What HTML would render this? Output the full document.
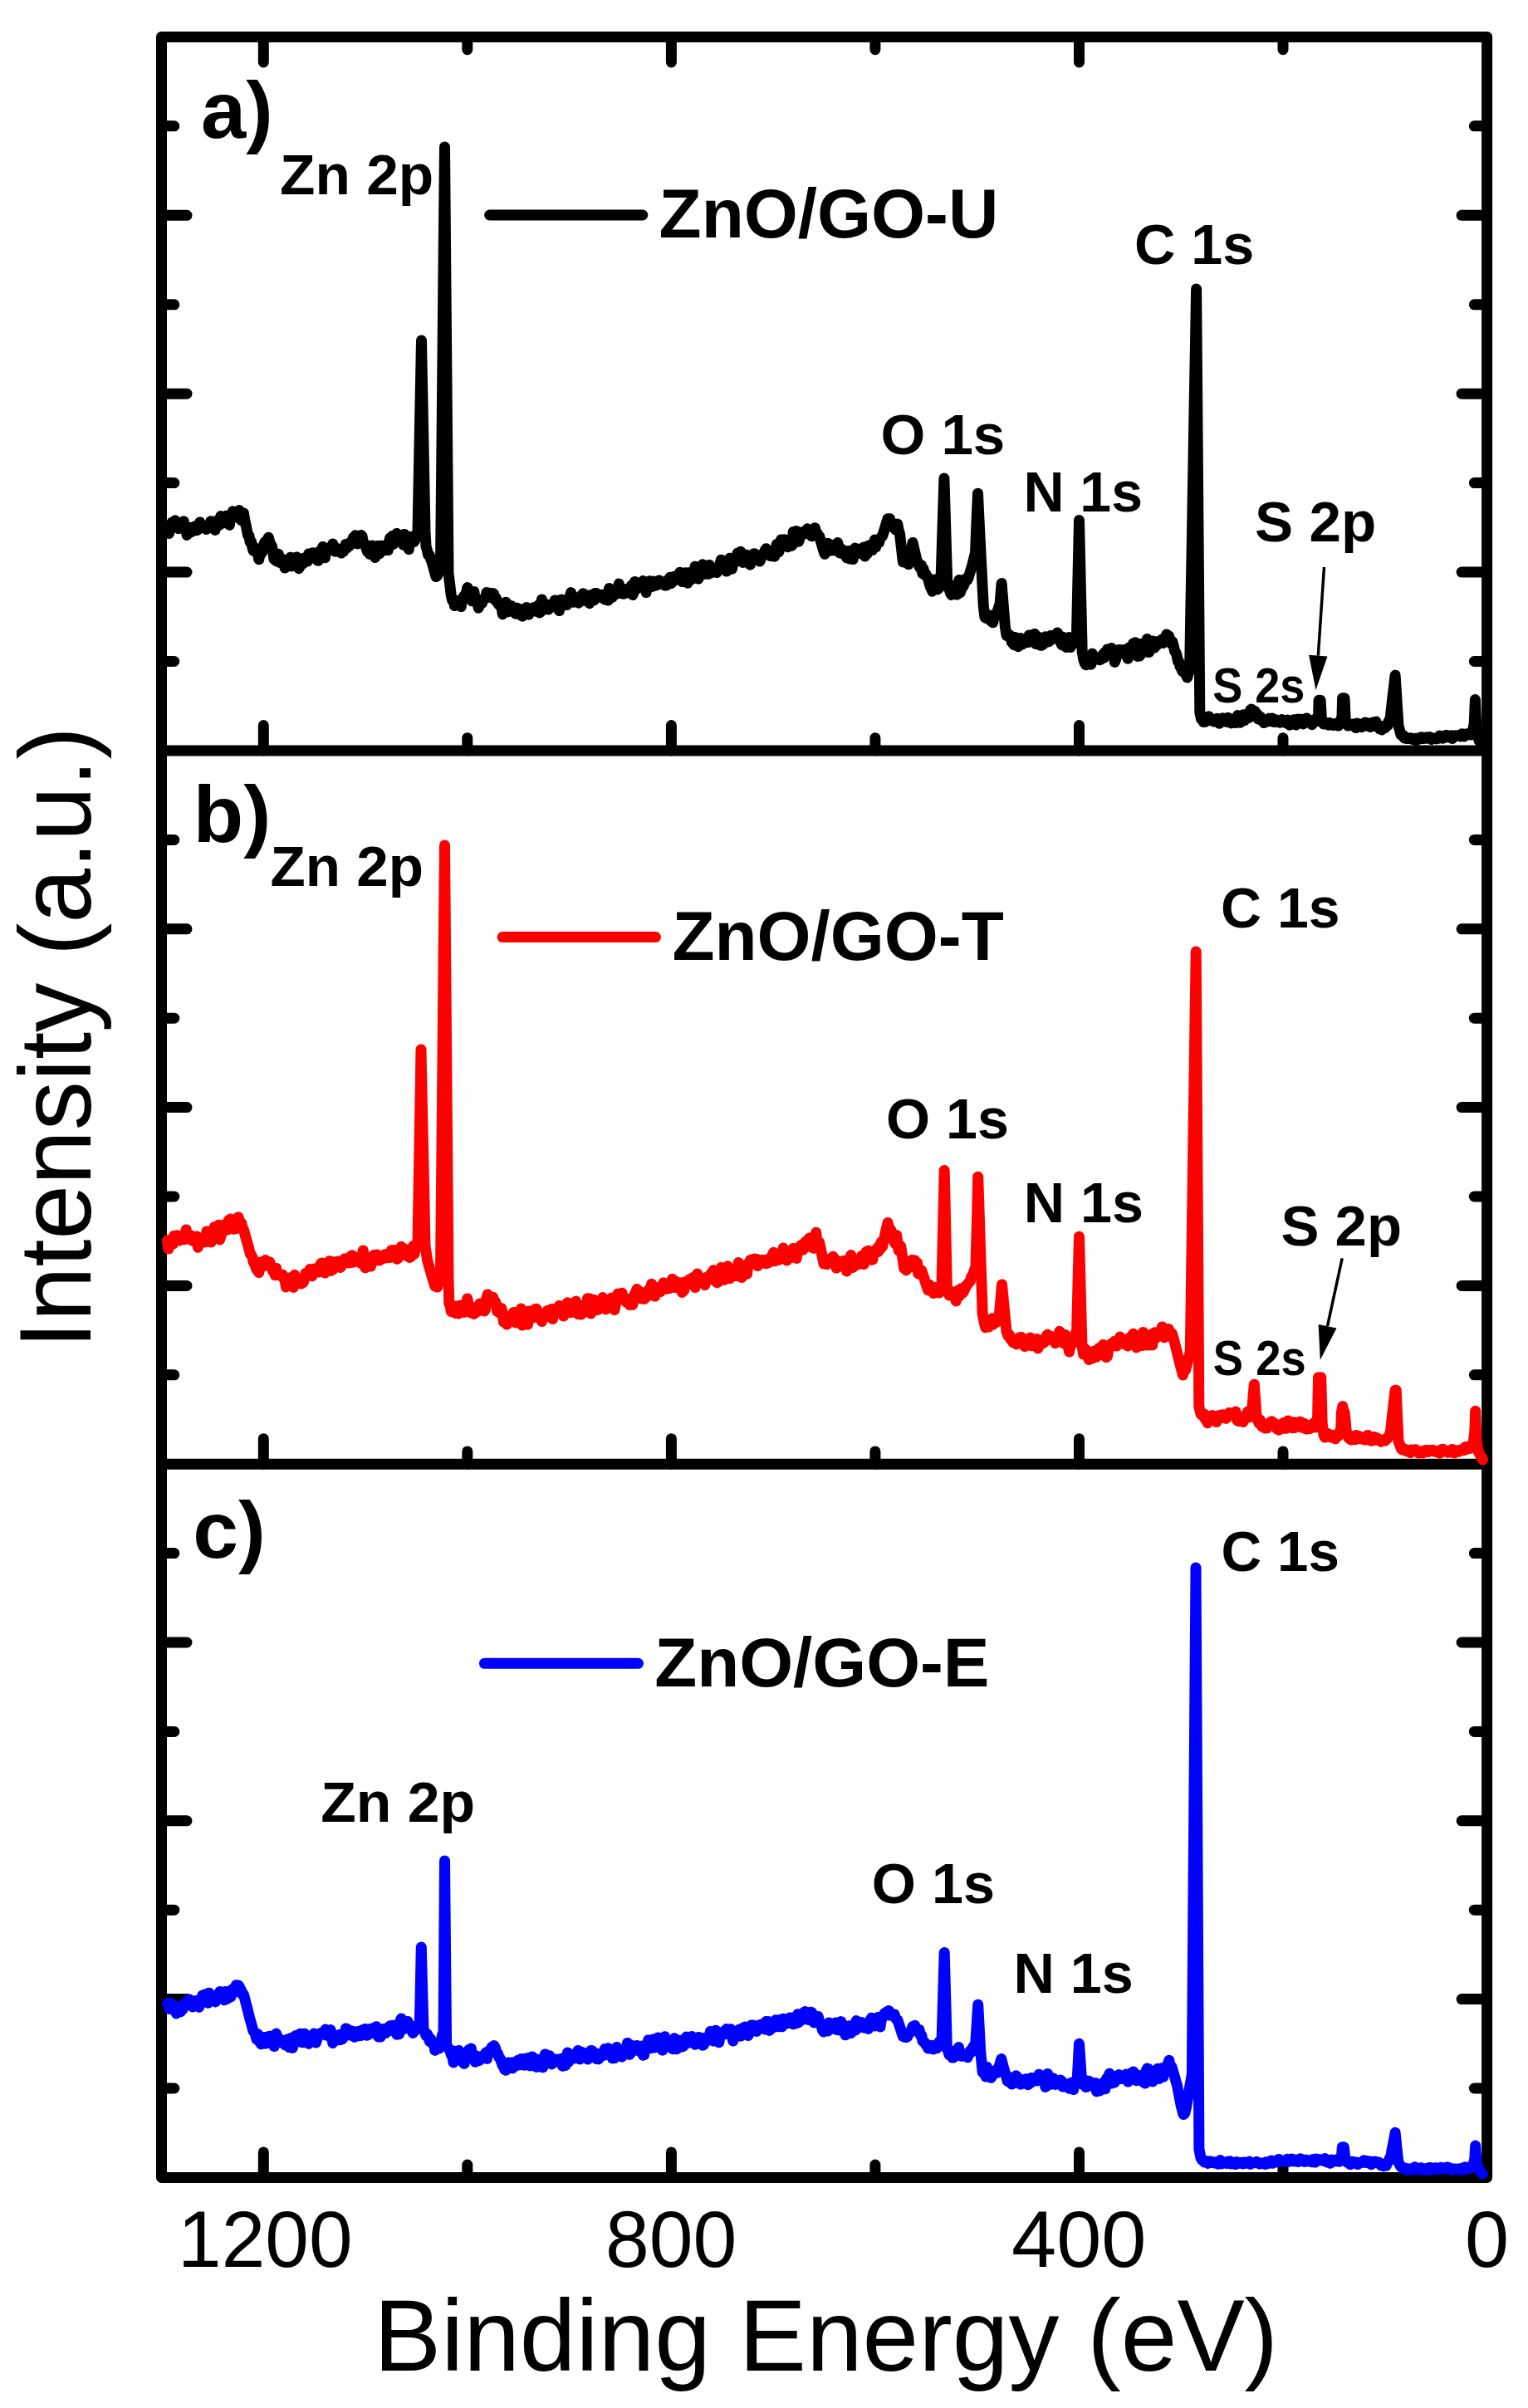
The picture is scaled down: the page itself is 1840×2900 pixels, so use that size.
<!DOCTYPE html>
<html lang="en"><head><meta charset="utf-8"><title>XPS survey spectra</title>
<style>html,body{margin:0;padding:0;background:#fff}svg{display:block}</style>
</head><body>
<svg width="1840" height="2900" viewBox="0 0 1840 2900" role="img" aria-label="XPS survey spectra of ZnO/GO samples">
<rect x="0" y="0" width="1840" height="2900" fill="#fff"/>
<g fill="none" stroke="#000" stroke-width="13" stroke-linecap="round" stroke-linejoin="round">
<rect x="194.5" y="44.4" width="1596.1" height="2578.0"/>
<path d="M194.5 904.0H1790.6M194.5 1763.2H1790.6"/>
<path d="M317.3 44.4v30.5M808.4 44.4v30.5M1299.5 44.4v30.5M562.8 44.4v15.3M1053.9 44.4v15.3M1545.0 44.4v15.3M317.3 904.0v-30.5M808.4 904.0v-30.5M1299.5 904.0v-30.5M562.8 904.0v-15.3M1053.9 904.0v-15.3M1545.0 904.0v-15.3M317.3 1763.2v-30.5M808.4 1763.2v-30.5M1299.5 1763.2v-30.5M562.8 1763.2v-15.3M1053.9 1763.2v-15.3M1545.0 1763.2v-15.3M317.3 2622.4v-30.5M808.4 2622.4v-30.5M1299.5 2622.4v-30.5M562.8 2622.4v-15.3M1053.9 2622.4v-15.3M1545.0 2622.4v-15.3M194.5 151.8h15.3M1790.6 151.8h-15.3M194.5 259.3h30.5M1790.6 259.3h-30.5M194.5 366.8h15.3M1790.6 366.8h-15.3M194.5 474.2h30.5M1790.6 474.2h-30.5M194.5 581.6h15.3M1790.6 581.6h-15.3M194.5 689.1h30.5M1790.6 689.1h-30.5M194.5 796.5h15.3M1790.6 796.5h-15.3M194.5 1011.4h15.3M1790.6 1011.4h-15.3M194.5 1118.8h30.5M1790.6 1118.8h-30.5M194.5 1226.2h15.3M1790.6 1226.2h-15.3M194.5 1333.6h30.5M1790.6 1333.6h-30.5M194.5 1441.0h15.3M1790.6 1441.0h-15.3M194.5 1548.4h30.5M1790.6 1548.4h-30.5M194.5 1655.8h15.3M1790.6 1655.8h-15.3M194.5 1870.6h15.3M1790.6 1870.6h-15.3M194.5 1978.0h30.5M1790.6 1978.0h-30.5M194.5 2085.4h15.3M1790.6 2085.4h-15.3M194.5 2192.8h30.5M1790.6 2192.8h-30.5M194.5 2300.2h15.3M1790.6 2300.2h-15.3M194.5 2407.6h30.5M1790.6 2407.6h-30.5M194.5 2515.0h15.3M1790.6 2515.0h-15.3"/>
</g>
<g fill="none" stroke-width="13" stroke-linecap="round" stroke-linejoin="round">
<path stroke="#000" d="M201.0 635.0L202.2 640.6L203.5 642.6L204.8 637.0L206.0 631.9L207.2 629.1L208.5 633.3L209.8 629.6L211.0 626.8L212.2 633.2L213.5 634.5L214.8 636.6L216.0 634.0L217.3 630.7L218.6 633.5L219.9 634.0L221.2 627.8L222.5 635.4L223.8 636.5L225.1 644.4L226.4 638.8L227.7 635.6L229.0 635.5L230.3 640.8L231.6 637.3L232.9 639.3L234.2 634.0L235.5 635.1L236.8 638.7L238.1 638.0L239.4 635.1L240.7 628.9L242.0 633.0L243.3 633.7L244.6 633.3L245.9 635.9L247.2 634.2L248.5 637.5L249.8 633.2L251.1 633.2L252.4 635.1L253.7 627.8L255.0 631.6L256.4 628.4L257.7 627.9L259.1 638.4L260.4 631.6L261.8 632.9L263.1 632.8L264.4 628.5L265.8 621.6L267.1 630.6L268.5 627.7L269.8 626.0L271.1 629.6L272.4 621.2L273.8 622.6L275.1 630.0L276.4 632.3L277.7 620.4L279.0 623.8L280.3 615.8L281.6 619.6L282.9 623.1L284.3 620.7L285.6 619.8L286.9 617.0L288.2 614.6L289.5 621.6L290.8 626.8L292.1 622.4L293.4 618.0L294.7 626.0L296.0 632.2L297.3 638.5L298.6 644.7L299.9 645.1L301.2 652.9L302.4 652.1L303.7 658.2L305.0 663.0L306.3 659.2L307.7 662.9L309.0 664.0L310.3 666.0L311.7 673.7L313.0 668.0L314.2 667.3L315.5 665.1L316.8 658.8L318.0 655.0L319.3 652.4L320.7 652.3L322.0 650.0L323.4 647.3L324.7 652.3L326.0 655.8L327.4 657.8L328.7 665.6L330.0 673.5L331.3 668.8L332.6 675.7L334.0 673.5L335.3 667.3L336.6 677.4L337.9 673.9L339.2 672.8L340.5 674.8L341.8 677.1L343.1 684.1L344.4 681.1L345.7 680.0L347.0 680.0L348.3 681.2L349.6 671.3L350.9 681.9L352.1 673.9L353.4 678.1L354.7 671.8L356.0 676.0L357.3 670.9L358.6 673.7L359.9 684.7L361.1 682.5L362.4 676.5L363.7 676.7L365.0 678.7L366.3 671.9L367.7 674.6L369.0 671.9L370.3 676.0L371.7 666.9L373.0 671.0L374.3 667.9L375.6 666.0L376.9 665.8L378.2 671.9L379.5 670.6L380.8 672.0L382.1 674.9L383.4 675.2L384.7 663.9L386.0 668.0L387.3 668.2L388.7 658.5L390.0 662.8L391.4 671.8L392.7 664.0L394.0 660.5L395.4 661.3L396.7 660.0L398.1 659.0L399.4 657.8L400.8 655.0L402.3 662.8L403.7 664.3L405.1 660.2L406.6 661.9L408.0 661.0L409.4 664.1L410.8 666.1L412.2 663.6L413.5 664.3L414.9 660.1L416.3 655.4L417.7 660.0L419.0 655.7L420.4 657.7L421.7 656.6L423.0 652.0L424.2 651.1L425.5 647.3L426.8 647.0L428.0 644.7L429.3 653.4L430.7 655.1L432.0 647.5L433.4 649.4L434.7 644.6L436.0 645.8L437.4 652.9L438.7 655.0L440.0 655.9L441.3 661.2L442.6 664.6L443.9 664.3L445.1 667.2L446.4 660.4L447.7 656.9L449.0 663.0L450.3 663.5L451.6 671.5L452.9 666.4L454.2 657.5L455.5 661.1L456.8 666.9L458.1 657.2L459.4 662.6L460.7 657.4L462.0 659.0L463.3 662.7L464.6 660.9L465.9 657.2L467.2 662.6L468.5 652.4L469.8 647.5L471.1 656.4L472.4 645.6L473.7 655.3L475.0 644.7L476.3 647.7L477.7 642.4L479.0 646.3L480.3 648.6L481.7 650.1L483.0 650.0L484.3 650.2L485.7 656.3L487.0 643.4L488.3 648.6L489.7 651.8L491.0 655.0L492.3 661.7L493.6 646.6L494.9 649.6L496.1 646.3L497.4 647.0L498.7 652.4L500.0 650.0L501.5 645.0L503.0 640.0L504.5 563.3L506.0 486.7L507.5 410.0L509.0 486.7L510.5 563.3L512.0 640.0L513.0 657.8L514.4 662.8L515.7 668.6L517.1 668.3L518.4 672.8L519.8 676.0L521.1 680.6L522.4 685.2L523.7 689.9L525.0 694.5L526.4 693.6L527.8 689.9L529.1 683.6L530.5 680.0L531.8 554.2L533.0 428.5L534.2 302.8L535.5 177.0L537.0 348.0L538.5 519.0L540.0 690.0L541.7 704.0L543.4 718.0L544.7 723.1L546.0 721.8L547.3 729.5L548.6 728.5L549.9 728.8L551.2 725.8L552.5 725.7L553.9 727.3L555.2 730.6L556.5 720.6L557.8 721.2L559.0 717.5L560.2 720.1L561.5 713.6L562.8 707.6L564.0 715.0L565.4 718.0L566.7 716.5L568.0 723.7L569.4 717.1L570.8 712.5L572.1 721.0L573.4 724.7L574.8 725.9L576.2 732.2L577.7 728.4L579.1 725.9L580.6 726.0L582.0 722.0L583.3 720.3L584.6 720.5L585.9 713.6L587.2 719.5L588.4 714.5L589.7 714.2L591.0 718.6L592.3 720.0L593.6 714.5L594.9 715.6L596.2 722.9L597.5 720.6L598.8 724.8L600.1 727.7L601.4 728.4L602.7 730.0L604.0 731.5L605.3 739.8L606.6 737.9L607.9 735.6L609.2 725.2L610.6 727.5L611.9 736.7L613.2 734.8L614.5 729.5L615.8 729.7L617.1 731.4L618.4 736.3L619.7 736.4L621.0 739.3L622.4 732.2L623.7 738.5L625.0 733.7L626.3 733.5L627.6 735.4L628.9 742.2L630.2 736.7L631.5 734.1L632.8 732.8L634.1 731.4L635.4 739.3L636.7 740.2L638.0 737.2L639.4 733.8L640.7 736.4L642.0 731.8L643.3 732.7L644.6 732.4L645.9 730.6L647.2 736.7L648.5 728.8L649.8 738.0L651.1 736.8L652.4 722.0L653.7 734.8L655.0 732.9L656.4 727.2L657.7 727.6L659.0 732.7L660.3 734.0L661.6 732.9L662.9 729.3L664.2 727.9L665.5 730.9L666.8 727.5L668.2 723.0L669.5 723.0L670.8 725.0L672.1 727.5L673.4 735.6L674.7 726.2L676.0 721.9L677.3 725.9L678.6 723.8L679.9 724.4L681.1 728.6L682.4 728.6L683.7 721.8L685.0 720.0L686.3 717.9L687.6 713.6L689.0 718.3L690.3 725.3L691.6 720.5L693.0 723.6L694.3 724.5L695.6 723.4L696.9 726.2L698.2 721.7L699.6 717.5L700.9 721.0L702.2 714.8L703.5 723.2L704.8 719.4L706.1 718.6L707.4 723.3L708.7 717.1L710.0 726.7L711.3 724.1L712.6 718.1L714.0 715.9L715.3 722.8L716.6 714.4L717.9 714.5L719.2 717.3L720.5 718.7L721.8 718.0L723.1 719.4L724.4 716.2L725.7 716.4L727.0 717.0L728.3 722.0L729.6 720.5L730.9 715.1L732.2 723.0L733.5 708.4L734.8 713.7L736.1 717.3L737.4 719.3L738.7 715.8L740.0 712.5L741.3 715.7L742.6 712.8L743.9 714.8L745.2 703.1L746.5 710.8L747.8 708.0L749.1 714.7L750.4 715.2L751.7 715.1L753.0 710.5L754.3 709.5L755.5 711.7L756.8 708.7L758.0 710.2L759.3 708.8L760.5 705.1L761.8 716.5L763.1 713.6L764.3 700.5L765.6 710.0L766.8 702.1L768.1 705.1L769.3 704.1L770.6 703.9L771.9 707.1L773.1 705.2L774.4 699.6L775.6 704.3L776.9 707.0L778.1 713.6L779.4 705.3L780.7 705.3L782.0 699.7L783.3 701.7L784.6 706.7L786.0 701.0L787.3 700.1L788.6 705.4L789.9 704.1L791.2 704.6L792.5 700.8L793.8 698.9L795.1 700.5L796.4 701.5L797.7 700.8L799.0 703.8L800.4 705.0L801.7 705.1L803.0 704.7L804.3 698.4L805.6 701.4L806.9 695.2L808.2 702.6L809.5 700.6L810.8 700.2L812.1 694.2L813.5 696.5L814.8 694.8L816.1 693.1L817.4 693.3L818.7 689.2L820.0 694.8L821.3 700.6L822.6 693.5L823.9 694.9L825.2 689.7L826.6 695.8L827.9 702.2L829.2 689.8L830.5 690.8L831.8 692.2L833.1 697.7L834.4 694.6L835.7 692.5L837.0 682.2L838.3 687.7L839.7 693.6L841.0 697.1L842.3 694.2L843.6 687.9L844.9 685.6L846.2 679.8L847.5 681.3L848.8 691.2L850.1 687.9L851.5 681.5L852.8 691.4L854.1 680.4L855.4 690.3L856.7 685.6L858.0 685.7L859.3 686.6L860.6 688.0L861.9 686.1L863.2 689.7L864.5 684.6L865.8 681.4L867.1 678.8L868.4 674.3L869.7 676.0L871.0 683.5L872.3 684.2L873.6 686.5L874.9 688.1L876.2 684.8L877.5 681.5L878.8 672.3L880.1 674.3L881.4 685.2L882.7 680.1L884.0 675.0L885.3 675.3L886.6 676.0L887.9 666.3L889.2 668.3L890.5 666.6L891.8 664.2L893.1 673.8L894.4 677.4L895.7 673.1L897.0 674.1L898.3 668.2L899.6 673.0L900.9 675.4L902.2 679.2L903.5 680.1L904.8 675.4L906.1 671.3L907.4 667.0L908.7 666.7L910.0 670.0L911.3 671.5L912.5 672.2L913.8 669.7L915.0 676.0L916.3 672.8L917.6 669.0L918.8 666.8L920.1 667.2L921.4 662.4L922.6 660.8L923.9 666.0L925.1 662.9L926.4 663.2L927.7 669.6L928.9 664.7L930.2 669.8L931.5 665.0L932.7 670.2L934.0 666.6L935.2 655.6L936.5 662.0L937.9 664.7L939.2 659.8L940.5 650.0L941.9 655.9L943.2 656.8L944.6 649.8L946.0 650.2L947.3 654.6L948.6 658.7L950.0 651.0L951.3 657.4L952.6 657.5L953.9 656.8L955.2 640.5L956.5 644.0L957.8 648.6L959.1 639.6L960.4 649.0L961.7 652.3L963.0 648.0L964.3 644.6L965.6 643.8L967.0 640.4L968.3 642.9L969.6 642.8L971.0 642.1L972.3 636.8L973.6 640.4L974.9 641.5L976.2 640.1L977.5 645.8L978.8 644.9L980.1 637.1L981.4 635.7L982.7 642.5L984.0 642.1L985.3 646.6L986.6 645.7L988.0 650.3L989.3 654.9L990.6 659.4L992.0 664.0L993.2 667.3L994.5 663.7L995.8 654.8L997.0 654.3L998.2 661.4L999.5 655.6L1000.8 663.1L1002.0 658.7L1003.3 660.1L1004.7 662.8L1006.0 657.9L1007.3 660.8L1008.7 653.6L1010.0 659.5L1011.4 666.1L1012.7 661.9L1014.0 661.7L1015.4 665.7L1016.7 667.9L1018.0 665.2L1019.4 671.7L1020.7 670.5L1022.0 663.4L1023.2 673.1L1024.5 664.1L1025.8 664.2L1027.1 673.5L1028.3 665.3L1029.6 660.1L1030.9 666.2L1032.2 663.1L1033.5 661.2L1034.7 662.3L1036.0 666.6L1037.3 661.6L1038.7 660.1L1040.0 659.0L1041.3 670.0L1042.7 662.2L1044.0 667.1L1045.3 657.4L1046.7 663.2L1048.0 656.3L1049.4 657.6L1050.7 662.4L1052.0 658.0L1053.4 650.1L1054.7 658.7L1056.0 653.0L1057.3 653.1L1058.7 653.2L1060.0 648.1L1061.3 646.7L1062.6 645.7L1063.9 641.5L1065.2 637.3L1066.4 633.1L1067.7 628.9L1069.0 624.7L1070.3 626.4L1071.6 624.8L1072.9 629.2L1074.1 630.1L1075.4 634.5L1076.7 635.8L1078.0 637.8L1079.4 638.3L1080.8 631.1L1082.1 638.5L1083.5 643.0L1084.8 654.3L1086.1 665.7L1087.4 677.0L1088.7 675.1L1090.0 673.3L1091.4 675.2L1092.7 672.7L1094.0 679.7L1095.2 673.2L1096.5 666.6L1097.8 660.0L1099.0 653.5L1100.4 659.4L1101.8 665.2L1103.1 671.1L1104.5 677.0L1105.8 677.5L1107.0 682.4L1108.2 684.3L1109.5 680.9L1110.8 690.7L1112.0 685.0L1113.3 692.1L1114.7 690.8L1116.0 694.8L1117.3 695.2L1118.7 701.2L1120.0 705.9L1121.3 708.7L1122.7 712.2L1124.0 705.6L1125.3 697.9L1126.7 703.2L1128.0 705.9L1129.2 709.7L1130.5 704.9L1131.8 707.6L1133.0 700.0L1134.3 658.7L1135.6 617.4L1136.9 576.1L1138.2 617.4L1139.4 658.7L1140.7 700.0L1143.0 709.0L1144.3 713.8L1145.7 716.4L1147.0 712.5L1148.4 705.6L1149.7 707.0L1151.0 708.4L1152.3 716.1L1153.6 707.2L1155.0 698.5L1156.3 713.6L1157.6 709.9L1158.9 704.3L1160.2 706.0L1161.7 701.6L1163.2 696.9L1164.7 698.7L1166.2 695.5L1167.7 690.5L1169.3 685.4L1170.8 680.4L1172.7 672.9L1174.5 665.4L1176.0 627.7L1177.5 594.2L1178.8 622.2L1180.2 650.3L1182.5 695.5L1184.3 730.0L1186.0 743.6L1187.4 744.4L1188.8 741.0L1190.1 741.1L1191.5 741.1L1192.9 747.7L1194.2 743.8L1195.6 749.7L1197.0 743.6L1198.8 740.5L1200.5 738.0L1202.3 732.5L1204.1 727.0L1206.1 702.6L1207.5 719.8L1208.9 737.0L1210.3 754.2L1212.1 765.5L1213.3 763.5L1214.6 764.2L1215.8 764.7L1217.1 767.3L1218.3 773.5L1219.6 770.0L1220.9 776.7L1222.2 767.4L1223.5 775.6L1224.8 772.7L1226.2 778.7L1227.5 772.7L1228.8 768.4L1230.1 774.7L1231.4 775.7L1232.7 772.6L1234.0 771.3L1235.3 772.2L1236.6 772.8L1237.9 773.7L1239.2 764.9L1240.5 764.9L1241.8 770.4L1243.2 772.6L1244.5 769.6L1245.8 763.4L1247.1 775.4L1248.4 771.1L1249.7 766.7L1251.0 771.3L1252.3 777.0L1253.6 777.4L1254.9 776.9L1256.3 775.8L1257.6 774.2L1258.9 766.8L1260.2 769.3L1261.5 771.2L1262.8 772.8L1264.1 772.3L1265.5 765.5L1266.8 765.5L1268.1 766.5L1269.4 768.7L1270.7 768.0L1272.0 766.0L1273.3 761.9L1274.6 764.2L1276.0 772.0L1277.3 773.2L1278.6 776.7L1279.9 767.2L1281.2 772.0L1282.5 776.5L1283.8 779.5L1285.0 768.6L1286.2 769.7L1287.5 767.5L1288.8 779.6L1290.0 776.5L1291.3 776.5L1292.5 772.4L1293.8 773.9L1295.0 772.5L1296.3 772.0L1297.9 699.2L1299.5 626.5L1301.3 705.8L1303.2 785.0L1305.0 795.0L1306.3 798.7L1307.6 800.8L1308.8 800.1L1310.1 797.3L1311.4 798.3L1312.7 798.7L1313.9 800.2L1315.2 787.2L1316.5 793.6L1317.8 793.3L1319.1 793.6L1320.4 793.9L1321.7 792.1L1323.0 792.2L1324.4 794.7L1325.7 793.9L1327.0 793.2L1328.3 787.7L1329.6 792.0L1330.9 785.0L1332.1 786.4L1333.4 782.0L1334.7 786.2L1336.0 785.6L1337.2 781.0L1338.5 780.5L1339.8 784.7L1341.1 785.4L1342.3 797.5L1343.6 794.5L1344.9 786.3L1346.2 785.2L1347.5 782.5L1348.7 782.6L1350.0 787.0L1351.3 783.8L1352.7 785.1L1354.0 782.5L1355.4 787.9L1356.8 788.1L1358.1 793.3L1359.5 780.1L1360.8 783.0L1362.1 784.9L1363.4 781.4L1364.6 774.9L1365.9 778.8L1367.2 773.7L1368.5 779.3L1369.8 790.5L1371.0 789.6L1372.3 790.0L1373.6 788.3L1374.9 775.3L1376.2 780.6L1377.4 780.5L1378.7 781.6L1380.0 775.1L1381.3 769.6L1382.5 785.5L1383.8 785.4L1385.1 781.3L1386.4 776.5L1387.7 778.1L1388.9 772.1L1390.2 780.0L1391.5 776.9L1392.8 777.4L1394.2 774.8L1395.5 772.2L1396.8 772.5L1398.2 772.7L1399.5 769.8L1400.8 774.4L1402.2 771.5L1403.5 768.8L1404.8 764.0L1406.2 771.3L1407.5 766.0L1408.9 773.3L1410.3 775.2L1411.8 772.6L1413.2 777.7L1414.6 784.4L1416.0 786.0L1417.3 790.2L1418.5 796.4L1419.8 796.9L1421.0 802.6L1422.3 804.6L1423.8 808.5L1425.3 804.5L1426.7 809.3L1428.2 812.7L1429.7 816.0L1431.2 810.4L1432.6 808.0L1433.9 731.3L1435.3 654.7L1436.6 578.0L1437.9 501.3L1439.3 424.7L1440.6 348.0L1442.0 518.0L1443.4 688.0L1444.8 858.0L1446.5 866.0L1447.8 863.9L1449.1 869.6L1450.4 867.4L1451.7 869.2L1453.0 867.6L1454.3 865.0L1455.6 862.8L1456.8 865.0L1458.1 867.7L1459.4 865.7L1460.7 868.0L1462.0 869.1L1463.3 866.6L1464.5 866.7L1465.8 865.2L1467.1 868.9L1468.4 871.3L1469.7 869.0L1471.0 866.1L1472.2 864.9L1473.5 865.5L1474.8 868.2L1476.1 865.1L1477.4 869.4L1478.7 864.2L1480.0 865.7L1481.2 869.0L1482.5 870.9L1483.8 866.0L1485.1 866.2L1486.5 867.7L1487.8 870.6L1489.2 870.0L1490.5 861.6L1491.9 865.1L1493.2 870.3L1494.6 864.0L1496.0 867.0L1497.3 860.7L1498.7 867.7L1500.0 865.0L1501.4 862.5L1502.8 864.4L1504.2 864.4L1505.6 855.2L1507.0 854.1L1508.4 858.4L1509.8 858.9L1511.1 856.4L1512.5 860.4L1513.9 859.9L1515.2 866.1L1516.6 864.0L1518.0 863.3L1519.3 867.5L1520.7 867.6L1522.0 870.6L1523.3 868.1L1524.5 868.5L1525.8 869.2L1527.1 867.2L1528.4 865.2L1529.7 868.6L1530.9 867.5L1532.2 865.1L1533.5 869.4L1534.8 869.6L1536.0 869.1L1537.3 867.1L1538.6 867.8L1539.9 869.8L1541.2 870.1L1542.4 867.4L1543.7 866.6L1545.0 869.0L1546.3 869.2L1547.6 869.4L1548.9 870.9L1550.2 867.0L1551.5 870.5L1552.8 873.2L1554.0 872.1L1555.3 870.1L1556.6 871.2L1557.9 866.8L1559.2 867.5L1560.5 873.1L1561.8 866.5L1563.1 865.9L1564.4 870.0L1565.7 867.8L1567.0 867.5L1568.2 866.2L1569.5 871.9L1570.8 868.4L1572.1 868.3L1573.4 864.9L1574.7 869.6L1576.0 869.0L1577.3 869.1L1578.6 870.1L1579.9 872.7L1581.1 870.3L1582.4 866.7L1583.7 866.3L1585.0 869.0L1586.3 864.9L1587.6 862.0L1588.1 843.3L1590.1 843.3L1591.4 866.0L1592.7 870.3L1594.0 872.0L1595.4 869.9L1596.8 871.0L1598.2 871.5L1599.6 873.2L1601.0 870.5L1602.4 872.3L1603.8 872.0L1605.1 873.5L1606.4 872.0L1607.7 871.5L1609.1 872.7L1610.4 872.8L1611.7 874.1L1613.0 871.0L1614.5 867.0L1616.0 864.0L1616.6 840.7L1619.0 840.7L1620.3 868.0L1621.7 872.2L1623.0 874.0L1624.4 874.0L1625.8 872.1L1627.2 872.9L1628.6 872.0L1630.0 873.8L1631.4 875.0L1632.8 876.6L1634.1 871.0L1635.5 871.5L1636.8 875.3L1638.2 874.1L1639.6 875.8L1640.9 872.1L1642.3 873.6L1643.6 870.1L1645.0 874.0L1646.3 870.5L1647.6 873.5L1648.8 874.8L1650.1 875.5L1651.4 871.8L1652.7 870.3L1654.2 869.7L1655.6 871.0L1657.1 869.1L1658.5 875.6L1660.0 875.0L1661.4 877.9L1662.7 874.6L1664.1 879.0L1665.4 874.6L1666.8 876.6L1668.2 876.3L1669.6 873.5L1671.0 874.0L1672.5 867.8L1674.0 866.0L1675.5 852.8L1677.0 839.6L1678.6 826.5L1680.1 813.3L1681.4 833.5L1682.7 853.8L1684.0 874.0L1685.5 879.5L1687.0 885.0L1688.3 885.9L1689.6 885.3L1690.9 888.8L1692.2 887.8L1693.5 889.5L1694.8 889.4L1696.1 888.9L1697.4 889.5L1698.8 888.8L1700.1 890.3L1701.4 890.4L1702.7 889.8L1704.0 889.4L1705.3 891.8L1706.6 889.3L1707.9 888.9L1709.2 890.2L1710.6 889.7L1711.9 887.7L1713.2 888.9L1714.5 889.5L1715.8 888.8L1717.0 888.1L1718.3 889.2L1719.6 887.9L1720.9 888.6L1722.1 887.6L1723.4 890.5L1724.7 889.0L1725.9 889.5L1727.2 889.3L1728.5 889.8L1729.8 888.8L1731.0 889.6L1732.3 889.0L1733.6 886.0L1734.8 888.2L1736.1 886.8L1737.4 889.1L1738.6 888.8L1739.9 887.9L1741.2 885.6L1742.5 885.6L1743.7 885.8L1745.0 888.0L1746.3 886.8L1747.6 885.7L1748.8 889.5L1750.1 888.4L1751.4 887.3L1752.7 885.7L1754.0 886.0L1755.3 886.1L1756.5 885.7L1757.8 886.0L1759.1 887.1L1760.4 883.8L1761.7 885.5L1763.0 887.0L1764.2 883.9L1765.5 884.5L1766.8 885.0L1768.3 884.1L1769.9 882.7L1771.5 885.1L1773.0 884.0L1775.3 870.0L1776.4 842.5L1778.0 880.0L1779.5 886.0L1781.0 892.0L1782.2 892.9L1783.5 895.0L1784.8 895.6L1786.0 896.0"/>
<path stroke="#f00" d="M201.5 1494.0L202.8 1504.1L204.1 1493.6L205.5 1495.8L206.8 1495.1L208.1 1498.3L209.4 1488.4L210.7 1490.6L212.0 1489.6L213.4 1487.8L214.7 1488.4L216.0 1494.0L217.4 1489.7L218.8 1490.7L220.1 1487.6L221.5 1492.8L222.9 1489.1L224.2 1480.9L225.6 1492.2L227.0 1490.0L228.3 1489.4L229.5 1487.7L230.8 1492.7L232.1 1494.4L233.3 1494.5L234.6 1490.9L235.9 1495.5L237.2 1489.0L238.4 1502.2L239.7 1498.0L241.0 1492.5L242.3 1494.4L243.6 1495.4L244.9 1496.0L246.3 1493.4L247.6 1495.7L248.9 1482.9L250.2 1486.9L251.5 1488.8L252.8 1487.4L254.1 1495.9L255.4 1485.5L256.8 1486.6L258.1 1477.8L259.4 1485.1L260.7 1486.4L262.0 1477.0L263.3 1475.3L264.6 1492.9L265.9 1489.0L267.2 1484.2L268.6 1483.5L269.9 1475.1L271.2 1474.5L272.5 1481.1L273.8 1481.0L275.1 1469.8L276.4 1476.7L277.7 1468.1L279.1 1474.0L280.4 1468.7L281.7 1480.3L283.0 1473.0L284.3 1479.8L285.6 1473.3L286.9 1465.9L288.2 1470.0L289.5 1475.4L290.8 1472.9L292.1 1479.2L293.4 1481.0L294.7 1485.7L296.0 1490.5L297.4 1495.2L298.7 1500.0L300.0 1504.7L301.3 1510.1L302.6 1511.7L303.9 1513.8L305.2 1519.9L306.5 1521.5L307.8 1525.7L309.1 1529.0L310.4 1524.4L311.7 1532.6L313.0 1525.4L314.3 1519.9L315.6 1525.7L316.9 1522.5L318.2 1520.1L319.6 1517.5L320.9 1519.0L322.2 1519.6L323.5 1524.2L324.8 1520.0L326.1 1525.3L327.4 1527.9L328.7 1531.0L330.0 1530.3L331.3 1535.7L332.6 1527.5L333.9 1535.6L335.2 1534.1L336.6 1536.0L337.9 1535.5L339.2 1535.6L340.5 1535.3L341.8 1540.0L343.1 1540.6L344.4 1550.0L345.6 1547.4L346.9 1545.8L348.2 1544.1L349.4 1538.8L350.7 1542.8L352.0 1541.0L353.3 1550.4L354.7 1535.5L356.0 1541.6L357.3 1543.6L358.7 1540.0L360.0 1541.2L361.3 1543.9L362.7 1546.1L364.0 1544.3L365.3 1544.6L366.7 1537.8L368.0 1533.5L369.3 1537.4L370.6 1533.7L371.9 1532.9L373.2 1528.6L374.6 1532.5L375.9 1536.7L377.2 1529.4L378.5 1528.0L379.8 1529.0L381.1 1530.8L382.4 1528.3L383.7 1532.1L385.0 1529.7L386.2 1522.1L387.5 1520.9L388.8 1529.0L390.1 1530.5L391.4 1533.1L392.7 1529.6L394.0 1527.0L395.3 1528.0L396.6 1518.8L398.0 1530.5L399.3 1522.0L400.6 1529.1L401.9 1520.1L403.2 1519.8L404.6 1523.4L405.9 1521.2L407.2 1519.1L408.5 1526.0L409.9 1526.4L411.2 1524.8L412.5 1521.7L413.8 1520.0L415.1 1516.0L416.4 1516.2L417.7 1515.6L419.0 1517.3L420.2 1521.1L421.5 1517.0L422.8 1512.6L424.1 1511.8L425.4 1520.2L426.7 1516.5L428.0 1513.9L429.3 1515.7L430.6 1516.2L431.9 1518.0L433.2 1516.6L434.6 1521.4L435.9 1521.1L437.2 1506.1L438.5 1512.7L439.8 1526.8L441.1 1514.2L442.4 1517.2L443.8 1522.8L445.1 1519.3L446.4 1525.1L447.7 1514.3L449.0 1519.0L450.3 1511.5L451.6 1515.4L453.0 1513.5L454.3 1511.1L455.6 1518.0L456.9 1518.0L458.3 1516.5L459.6 1513.8L460.9 1516.0L462.2 1514.4L463.6 1510.7L464.9 1513.9L466.2 1514.7L467.5 1514.5L468.8 1512.5L470.1 1514.4L471.4 1505.7L472.8 1507.5L474.1 1505.6L475.4 1513.4L476.7 1510.8L478.0 1516.3L479.3 1515.5L480.6 1504.7L481.9 1506.4L483.1 1501.4L484.4 1508.4L485.7 1507.1L486.9 1508.1L488.2 1504.6L489.5 1512.4L490.7 1513.0L492.0 1512.6L493.4 1514.3L494.8 1513.6L496.2 1507.2L497.6 1500.5L499.0 1510.0L500.3 1503.1L501.7 1500.9L503.0 1500.0L504.3 1421.3L505.7 1342.7L507.0 1264.0L508.2 1323.0L509.5 1382.0L510.8 1441.0L512.0 1500.0L513.3 1508.9L514.6 1517.8L515.9 1522.3L517.2 1526.9L518.5 1531.5L519.8 1536.0L521.1 1540.3L522.5 1544.7L523.8 1549.0L525.2 1544.5L526.6 1550.1L528.0 1545.0L529.2 1537.5L530.5 1530.0L531.8 1402.0L533.0 1274.0L534.2 1146.0L535.5 1018.0L537.0 1192.0L538.5 1366.0L540.0 1540.0L540.8 1570.0L542.1 1571.6L543.3 1579.6L544.6 1576.1L545.9 1578.5L547.2 1579.0L548.5 1581.4L549.7 1573.0L551.0 1579.0L552.3 1582.1L553.6 1578.7L554.9 1572.0L556.2 1577.3L557.5 1576.6L558.8 1580.3L560.1 1577.9L561.4 1574.8L562.7 1563.9L564.0 1570.0L565.4 1577.4L566.7 1580.9L568.1 1579.3L569.4 1578.2L570.8 1582.4L572.1 1574.4L573.5 1578.0L574.9 1579.6L576.3 1576.5L577.8 1569.9L579.2 1573.9L580.6 1574.0L582.0 1571.0L583.3 1579.1L584.6 1576.6L585.9 1563.5L587.1 1558.9L588.4 1565.4L589.7 1566.2L591.0 1567.5L592.3 1564.1L593.6 1562.3L594.9 1569.0L596.1 1567.2L597.4 1570.1L598.7 1579.4L600.0 1578.0L601.3 1581.1L602.6 1577.4L603.9 1575.7L605.1 1580.7L606.4 1592.1L607.7 1585.2L609.0 1587.0L610.3 1595.1L611.7 1585.3L613.0 1585.6L614.4 1590.0L615.7 1584.1L617.0 1586.5L618.4 1580.4L619.7 1588.5L621.1 1592.9L622.4 1587.0L623.7 1585.2L625.0 1587.1L626.3 1584.6L627.6 1576.1L628.9 1596.1L630.2 1591.4L631.5 1590.9L632.8 1588.6L634.1 1586.8L635.5 1595.1L636.8 1579.0L638.1 1581.7L639.4 1581.7L640.7 1582.5L642.0 1586.9L643.3 1581.1L644.6 1576.6L645.9 1576.3L647.2 1583.6L648.5 1583.0L649.8 1587.5L651.1 1587.8L652.4 1591.5L653.7 1582.3L655.0 1587.1L656.4 1586.7L657.7 1582.5L659.0 1578.5L660.3 1585.2L661.6 1579.4L662.9 1579.7L664.2 1576.4L665.5 1588.5L666.8 1582.8L668.2 1579.2L669.5 1579.4L670.8 1579.5L672.1 1580.9L673.4 1572.6L674.7 1580.6L676.0 1572.8L677.2 1580.6L678.5 1585.1L679.7 1576.1L681.0 1579.0L682.2 1576.3L683.5 1568.8L684.7 1574.2L686.0 1572.1L687.2 1580.7L688.5 1577.5L689.7 1577.3L691.0 1570.3L692.2 1576.0L693.5 1567.3L694.7 1575.3L696.0 1582.6L697.2 1571.9L698.5 1578.9L699.7 1583.1L701.0 1575.4L702.3 1576.0L703.6 1580.3L704.9 1576.2L706.2 1572.2L707.5 1563.7L708.8 1565.7L710.1 1564.1L711.4 1581.9L712.7 1575.9L714.0 1572.1L715.3 1565.3L716.6 1578.0L717.9 1567.2L719.2 1576.9L720.5 1577.2L721.8 1572.1L723.1 1567.1L724.4 1568.6L725.7 1562.6L727.0 1568.8L728.3 1570.1L729.6 1576.9L730.9 1574.7L732.2 1574.8L733.5 1566.4L734.8 1569.0L736.1 1563.2L737.4 1564.4L738.7 1570.2L740.0 1577.5L741.3 1570.7L742.6 1568.2L743.9 1558.2L745.2 1565.5L746.5 1562.0L747.8 1558.7L749.1 1557.3L750.4 1564.7L751.7 1563.8L753.0 1566.0L754.3 1568.2L755.5 1564.7L756.8 1564.6L758.0 1571.3L759.3 1569.4L760.5 1568.5L761.8 1571.3L763.1 1565.7L764.3 1558.2L765.6 1556.9L766.8 1552.6L768.1 1560.4L769.3 1558.4L770.6 1561.9L771.9 1564.0L773.1 1556.4L774.4 1558.9L775.6 1564.4L776.9 1559.8L778.1 1562.4L779.4 1557.0L780.7 1557.0L782.0 1552.0L783.3 1554.0L784.6 1546.4L786.0 1556.7L787.3 1553.2L788.6 1561.1L789.9 1550.5L791.2 1554.2L792.5 1555.9L793.8 1553.5L795.1 1555.6L796.4 1550.4L797.7 1547.4L799.0 1544.8L800.4 1548.1L801.7 1547.5L803.0 1552.2L804.3 1550.3L805.6 1551.8L806.9 1547.7L808.2 1546.5L809.5 1540.4L810.8 1545.6L812.1 1550.4L813.5 1542.9L814.8 1545.8L816.1 1550.7L817.4 1545.0L818.7 1547.5L820.0 1544.8L821.3 1556.4L822.6 1555.4L823.9 1553.5L825.2 1543.7L826.6 1547.3L827.9 1544.0L829.2 1545.3L830.5 1540.8L831.8 1542.7L833.1 1542.7L834.4 1538.6L835.7 1542.6L837.0 1550.5L838.3 1537.2L839.7 1534.0L841.0 1541.9L842.3 1545.1L843.6 1540.1L844.9 1543.3L846.2 1543.2L847.5 1543.6L848.8 1547.6L850.1 1538.6L851.5 1542.6L852.8 1541.2L854.1 1536.4L855.4 1540.8L856.7 1533.0L858.0 1538.7L859.3 1529.8L860.6 1541.2L861.9 1533.3L863.2 1544.7L864.5 1544.2L865.8 1536.3L867.1 1532.4L868.4 1526.6L869.7 1533.0L871.0 1527.3L872.3 1541.3L873.6 1528.8L874.9 1533.9L876.2 1525.0L877.5 1529.7L878.8 1539.7L880.1 1533.4L881.4 1529.8L882.7 1530.4L884.0 1533.5L885.3 1533.7L886.6 1536.6L887.9 1531.3L889.2 1520.6L890.5 1528.9L891.8 1533.6L893.1 1538.5L894.4 1531.6L895.7 1528.8L897.0 1524.0L898.3 1528.6L899.6 1534.2L900.9 1521.5L902.2 1523.1L903.5 1517.5L904.8 1517.2L906.1 1519.1L907.4 1522.3L908.7 1516.1L910.0 1519.0L911.3 1516.4L912.5 1524.6L913.8 1522.2L915.0 1522.4L916.3 1520.8L917.6 1517.3L918.8 1519.3L920.1 1520.1L921.4 1517.5L922.6 1521.7L923.9 1517.6L925.1 1520.8L926.4 1517.1L927.7 1519.4L928.9 1513.0L930.2 1511.8L931.5 1508.3L932.7 1518.8L934.0 1517.9L935.2 1516.0L936.5 1513.9L937.9 1517.2L939.2 1510.3L940.5 1512.9L941.9 1510.5L943.2 1503.1L944.6 1508.9L946.0 1507.2L947.3 1517.9L948.6 1509.7L950.0 1511.8L951.3 1507.7L952.6 1514.6L953.9 1511.1L955.2 1503.4L956.5 1508.7L957.8 1504.8L959.1 1515.5L960.4 1504.3L961.7 1502.6L963.0 1506.6L964.3 1499.8L965.6 1499.5L967.0 1505.1L968.3 1500.3L969.6 1495.7L970.9 1496.3L972.3 1493.8L973.6 1492.4L974.9 1491.0L976.2 1501.6L977.5 1502.2L978.8 1502.7L980.1 1503.3L981.4 1492.0L982.7 1484.3L984.0 1496.0L985.3 1497.6L986.6 1496.0L988.0 1502.5L989.3 1509.0L990.6 1515.5L992.0 1522.0L993.2 1521.8L994.5 1519.7L995.8 1522.6L997.0 1521.8L998.2 1519.5L999.5 1519.3L1000.8 1515.2L1002.0 1514.5L1003.2 1513.3L1004.5 1522.2L1005.8 1516.9L1007.0 1527.1L1008.2 1523.5L1009.5 1520.3L1010.8 1525.2L1012.0 1520.0L1013.3 1519.2L1014.5 1519.1L1015.8 1518.5L1017.1 1520.1L1018.3 1524.0L1019.6 1531.0L1020.9 1526.4L1022.2 1517.3L1023.4 1516.4L1024.7 1511.5L1026.0 1522.7L1027.2 1526.4L1028.5 1522.0L1029.8 1524.0L1031.1 1522.9L1032.4 1522.9L1033.7 1521.9L1035.0 1522.1L1036.4 1519.6L1037.7 1512.4L1039.0 1519.5L1040.3 1522.6L1041.6 1514.5L1042.9 1507.7L1044.2 1510.5L1045.5 1506.3L1046.8 1512.8L1048.2 1510.1L1049.5 1517.2L1050.8 1517.0L1052.1 1508.8L1053.4 1506.2L1054.7 1508.0L1056.0 1503.3L1057.3 1507.6L1058.7 1500.4L1060.0 1504.4L1061.3 1495.6L1062.6 1501.0L1063.9 1495.3L1065.2 1489.6L1066.4 1484.0L1067.7 1478.3L1069.0 1472.6L1070.3 1477.4L1071.7 1481.8L1073.0 1481.8L1074.3 1485.7L1075.7 1491.8L1077.0 1496.0L1078.3 1498.1L1079.6 1487.6L1080.9 1496.1L1082.2 1506.1L1083.5 1499.7L1084.8 1501.0L1086.1 1509.8L1087.4 1518.7L1088.7 1527.5L1090.0 1519.8L1091.3 1529.9L1092.7 1527.0L1094.0 1525.3L1095.3 1526.3L1096.6 1522.0L1097.9 1517.6L1099.2 1519.0L1100.5 1517.7L1101.8 1518.0L1103.2 1522.6L1104.5 1520.8L1105.8 1533.9L1107.1 1532.4L1108.4 1534.2L1109.7 1530.0L1111.0 1534.0L1112.3 1537.9L1113.6 1541.8L1114.9 1545.8L1116.2 1549.8L1117.5 1553.7L1118.8 1547.1L1120.1 1551.5L1121.4 1553.1L1122.8 1555.2L1124.1 1557.4L1125.4 1552.1L1126.7 1550.4L1128.0 1556.0L1129.5 1555.0L1131.0 1557.0L1132.5 1555.0L1134.0 1548.0L1135.6 1478.8L1137.2 1409.5L1138.8 1479.8L1140.3 1550.0L1141.7 1555.0L1143.0 1560.0L1144.4 1559.8L1145.8 1555.4L1147.2 1558.7L1148.6 1560.7L1150.0 1558.0L1151.2 1566.9L1152.5 1558.6L1153.8 1553.9L1155.0 1561.2L1156.2 1554.2L1157.5 1551.7L1158.8 1557.6L1160.0 1556.0L1161.4 1553.7L1162.8 1549.0L1164.2 1548.2L1165.5 1546.0L1166.9 1544.3L1168.3 1543.0L1169.6 1537.9L1170.9 1537.7L1172.3 1533.0L1173.6 1529.0L1174.9 1527.5L1176.5 1470.0L1177.7 1417.3L1179.2 1461.9L1180.6 1506.6L1181.9 1544.5L1183.2 1582.5L1185.5 1594.0L1186.8 1598.8L1188.1 1590.9L1189.4 1597.2L1190.8 1598.0L1192.1 1594.0L1193.4 1595.6L1194.7 1587.8L1196.0 1595.0L1197.5 1593.4L1199.0 1587.8L1200.5 1592.0L1202.1 1586.0L1203.7 1580.0L1205.1 1563.5L1206.5 1547.0L1207.9 1561.1L1209.2 1575.2L1210.6 1589.4L1212.0 1603.5L1214.0 1609.0L1215.4 1607.5L1216.8 1612.5L1218.2 1612.8L1219.6 1616.5L1221.1 1615.5L1222.6 1616.3L1224.0 1618.8L1225.5 1615.4L1227.0 1611.0L1228.4 1617.7L1229.8 1610.5L1231.1 1611.2L1232.5 1616.9L1233.9 1621.6L1235.2 1619.8L1236.6 1615.3L1238.0 1617.8L1239.3 1611.8L1240.6 1611.1L1241.9 1620.7L1243.2 1612.7L1244.5 1614.1L1245.8 1618.4L1247.2 1618.3L1248.5 1612.5L1249.8 1623.9L1251.1 1617.6L1252.4 1616.4L1253.7 1614.0L1255.0 1618.2L1256.3 1613.2L1257.6 1616.7L1258.9 1613.3L1260.2 1608.8L1261.5 1607.2L1262.8 1613.1L1264.2 1613.1L1265.5 1611.7L1266.8 1609.7L1268.1 1610.1L1269.4 1615.1L1270.7 1617.7L1272.0 1611.7L1273.3 1612.5L1274.6 1611.0L1275.9 1603.3L1277.2 1605.3L1278.5 1608.7L1279.8 1609.3L1281.1 1617.9L1282.4 1607.4L1283.7 1617.9L1285.0 1619.0L1286.3 1621.8L1287.6 1628.1L1289.0 1618.0L1290.3 1619.3L1291.6 1616.5L1292.8 1617.4L1294.1 1613.3L1295.3 1605.3L1296.6 1603.5L1298.0 1546.4L1299.5 1489.3L1301.2 1554.2L1302.9 1619.0L1304.5 1631.0L1305.8 1628.8L1307.2 1624.6L1308.5 1629.3L1309.8 1633.4L1311.2 1637.5L1312.5 1634.6L1313.8 1635.3L1315.2 1636.2L1316.5 1629.6L1317.8 1627.0L1319.1 1631.7L1320.4 1634.2L1321.7 1629.0L1323.0 1623.8L1324.4 1627.7L1325.7 1628.4L1327.0 1631.0L1328.3 1619.5L1329.6 1627.0L1330.9 1622.7L1332.1 1634.6L1333.4 1633.7L1334.7 1626.1L1336.0 1623.1L1337.2 1622.0L1338.5 1617.9L1339.8 1618.9L1341.1 1620.8L1342.3 1615.2L1343.6 1618.8L1344.9 1620.9L1346.2 1613.6L1347.5 1615.3L1348.7 1610.0L1350.0 1617.8L1351.3 1615.8L1352.7 1618.2L1354.0 1615.1L1355.4 1617.1L1356.8 1619.8L1358.1 1621.0L1359.5 1611.6L1360.8 1616.9L1362.1 1613.8L1363.4 1608.9L1364.6 1606.2L1365.9 1618.2L1367.2 1620.1L1368.5 1622.8L1369.8 1620.9L1371.0 1614.2L1372.3 1615.8L1373.6 1612.4L1374.9 1620.6L1376.2 1604.6L1377.4 1613.7L1378.7 1611.2L1380.0 1616.6L1381.3 1620.1L1382.5 1612.0L1383.8 1619.4L1385.1 1619.8L1386.4 1606.9L1387.7 1619.9L1388.9 1608.6L1390.2 1604.7L1391.5 1612.0L1392.8 1609.7L1394.2 1605.0L1395.5 1604.0L1396.8 1604.3L1398.1 1603.2L1399.4 1597.9L1400.7 1608.9L1402.0 1610.8L1403.3 1604.2L1404.6 1609.5L1405.9 1602.9L1407.2 1600.5L1408.6 1604.5L1409.9 1605.9L1411.3 1605.9L1412.6 1610.5L1414.0 1615.0L1415.4 1620.5L1416.8 1626.0L1418.1 1631.5L1419.5 1637.0L1421.1 1643.3L1422.8 1649.7L1424.4 1656.0L1426.0 1650.3L1427.5 1650.0L1429.0 1644.5L1430.4 1639.0L1431.8 1633.5L1433.3 1628.0L1434.7 1531.6L1436.1 1435.2L1437.4 1338.8L1438.8 1242.4L1440.2 1146.0L1441.8 1394.0L1443.5 1642.0L1443.8 1694.0L1446.0 1703.0L1447.4 1704.4L1448.8 1705.0L1450.1 1703.0L1451.5 1709.6L1452.9 1708.5L1454.2 1713.7L1455.6 1707.8L1457.0 1708.0L1458.3 1706.5L1459.6 1704.6L1460.9 1707.3L1462.2 1706.4L1463.5 1706.7L1464.8 1712.6L1466.1 1710.5L1467.4 1704.8L1468.6 1706.8L1469.9 1704.8L1471.2 1703.9L1472.5 1703.8L1473.8 1704.6L1475.1 1706.7L1476.4 1708.4L1477.7 1705.1L1479.0 1703.6L1480.3 1701.4L1481.5 1703.9L1482.8 1704.1L1484.1 1704.3L1485.4 1701.4L1486.6 1704.8L1487.9 1700.1L1489.2 1710.0L1490.5 1711.0L1491.7 1711.6L1493.0 1708.7L1494.4 1706.2L1495.8 1708.5L1497.1 1712.5L1498.5 1708.2L1499.9 1704.1L1501.2 1706.2L1502.6 1699.9L1504.0 1707.0L1505.8 1703.2L1507.5 1700.0L1508.9 1683.6L1510.3 1667.2L1511.7 1686.5L1513.0 1705.7L1514.5 1710.5L1516.0 1714.0L1517.3 1710.0L1518.6 1715.4L1519.8 1718.1L1521.1 1717.4L1522.4 1717.3L1523.7 1720.1L1524.9 1716.8L1526.2 1719.7L1527.5 1715.6L1528.8 1713.2L1530.1 1713.8L1531.3 1711.8L1532.6 1715.8L1533.9 1713.5L1535.2 1716.3L1536.4 1716.9L1537.7 1721.0L1539.0 1716.0L1540.3 1722.2L1541.7 1715.8L1543.0 1715.1L1544.3 1714.9L1545.7 1713.4L1547.0 1720.3L1548.3 1720.2L1549.7 1715.7L1551.0 1710.9L1552.3 1711.9L1553.7 1714.1L1555.0 1714.6L1556.3 1719.7L1557.6 1712.8L1558.9 1719.6L1560.1 1713.1L1561.4 1717.1L1562.7 1714.0L1564.0 1715.7L1565.3 1712.2L1566.6 1718.6L1567.9 1719.2L1569.1 1716.7L1570.4 1714.3L1571.7 1718.7L1573.0 1721.0L1574.4 1720.2L1575.8 1716.4L1577.1 1720.5L1578.5 1719.7L1579.9 1716.5L1581.2 1716.4L1582.6 1713.3L1584.0 1719.0L1585.3 1713.5L1586.6 1708.0L1587.5 1658.7L1589.1 1660.2L1590.7 1658.7L1592.2 1715.0L1594.0 1728.0L1595.3 1731.1L1596.6 1729.1L1597.9 1726.4L1599.1 1726.4L1600.4 1728.6L1601.7 1728.2L1603.0 1731.0L1604.3 1730.7L1605.6 1728.5L1606.9 1731.6L1608.1 1732.9L1609.4 1729.0L1610.7 1727.3L1612.0 1729.0L1613.4 1724.5L1614.8 1720.0L1615.4 1701.6L1616.7 1693.7L1617.9 1698.8L1619.2 1701.6L1621.4 1725.0L1622.7 1728.2L1624.0 1732.0L1625.3 1730.0L1626.7 1734.0L1628.0 1731.3L1629.3 1729.6L1630.7 1733.4L1632.0 1733.7L1633.3 1728.5L1634.7 1730.2L1636.0 1729.4L1637.3 1731.5L1638.7 1732.9L1640.0 1733.0L1641.2 1731.8L1642.5 1732.5L1643.8 1734.1L1645.0 1731.8L1646.2 1728.9L1647.5 1728.6L1648.8 1732.3L1650.0 1731.0L1651.3 1735.3L1652.6 1732.2L1653.9 1732.8L1655.1 1730.6L1656.4 1730.8L1657.7 1734.3L1659.0 1732.3L1660.3 1733.4L1661.6 1733.8L1662.9 1736.2L1664.1 1735.2L1665.4 1734.5L1666.7 1734.1L1668.0 1735.0L1669.3 1732.6L1670.7 1732.6L1672.0 1730.0L1673.3 1728.6L1674.7 1722.0L1676.0 1710.1L1677.3 1698.2L1678.7 1686.2L1680.0 1674.3L1681.2 1674.3L1682.6 1705.2L1684.0 1736.0L1685.5 1739.3L1687.0 1744.0L1688.3 1746.0L1689.6 1744.3L1690.9 1744.9L1692.2 1746.1L1693.5 1747.5L1694.8 1746.7L1696.0 1746.8L1697.3 1746.5L1698.5 1749.6L1699.8 1746.1L1701.1 1746.3L1702.3 1746.2L1703.6 1747.4L1704.8 1745.8L1706.1 1747.0L1707.3 1747.5L1708.6 1750.0L1709.9 1749.0L1711.1 1747.8L1712.4 1747.7L1713.6 1749.9L1714.9 1747.9L1716.2 1746.7L1717.4 1746.5L1718.7 1746.7L1719.9 1748.4L1721.2 1746.4L1722.4 1746.5L1723.7 1747.2L1725.0 1746.2L1726.2 1748.0L1727.5 1747.1L1728.7 1748.0L1730.0 1747.5L1731.2 1748.3L1732.5 1749.6L1733.8 1750.2L1735.0 1746.9L1736.2 1745.5L1737.5 1745.3L1738.8 1747.4L1740.0 1748.0L1741.2 1747.4L1742.5 1747.2L1743.8 1749.2L1745.0 1748.9L1746.2 1747.9L1747.5 1748.1L1748.8 1745.4L1750.0 1748.2L1751.2 1749.9L1752.5 1748.0L1753.8 1746.7L1755.0 1747.0L1756.3 1748.3L1757.7 1746.3L1759.0 1746.4L1760.3 1747.0L1761.7 1745.9L1763.0 1746.6L1764.3 1742.9L1765.7 1742.2L1767.0 1745.0L1768.3 1744.4L1769.6 1744.6L1770.9 1743.7L1772.2 1742.1L1773.5 1742.0L1775.8 1725.0L1776.7 1699.3L1777.8 1735.0L1780.0 1748.0L1781.4 1750.4L1782.8 1753.2L1784.1 1755.0L1785.5 1758.0"/>
<path stroke="#00f" d="M201.5 2413.0L202.9 2414.0L204.2 2419.6L205.6 2412.1L206.9 2418.9L208.3 2415.6L209.6 2415.2L211.0 2417.0L212.3 2424.9L213.6 2419.7L214.9 2417.5L216.2 2420.3L217.6 2422.7L218.9 2418.3L220.2 2419.9L221.5 2413.5L222.8 2414.5L224.1 2414.5L225.4 2410.6L226.8 2408.9L228.1 2407.9L229.4 2413.7L230.7 2415.4L232.0 2417.0L233.3 2414.7L234.6 2415.8L235.9 2409.6L237.2 2413.1L238.5 2415.0L239.8 2417.2L241.1 2410.5L242.4 2410.4L243.7 2403.2L245.0 2407.2L246.3 2402.1L247.6 2410.7L248.9 2401.4L250.2 2412.2L251.5 2400.2L252.9 2409.7L254.2 2409.7L255.5 2406.5L256.8 2408.6L258.1 2409.0L259.4 2410.9L260.7 2405.5L262.1 2402.2L263.4 2400.9L264.7 2398.5L266.0 2403.0L267.3 2402.2L268.7 2400.6L270.0 2408.7L271.3 2398.5L272.7 2399.8L274.0 2407.0L275.3 2401.7L276.6 2399.2L277.9 2404.9L279.2 2396.1L280.4 2397.3L281.7 2395.8L283.0 2399.0L284.3 2390.7L285.6 2394.0L286.9 2391.0L288.2 2392.4L289.5 2395.6L290.8 2397.3L292.1 2402.5L293.4 2402.0L294.7 2406.8L296.0 2412.0L297.4 2417.2L298.7 2422.5L300.0 2427.7L301.2 2432.3L302.5 2436.8L303.8 2441.4L305.0 2446.0L306.3 2447.2L307.7 2450.5L309.0 2456.0L310.3 2449.7L311.7 2458.1L313.0 2457.8L314.3 2461.8L315.6 2455.6L316.9 2456.9L318.2 2453.5L319.6 2461.2L320.9 2456.5L322.2 2453.0L323.5 2452.6L324.8 2452.3L326.1 2453.1L327.4 2454.0L328.8 2451.7L330.1 2464.5L331.4 2451.1L332.7 2449.1L334.0 2459.0L335.3 2454.1L336.6 2456.9L337.9 2459.8L339.2 2457.9L340.5 2457.6L341.8 2459.5L343.1 2462.7L344.4 2457.2L345.7 2456.1L347.0 2457.8L348.3 2465.6L349.6 2461.8L350.9 2454.2L352.2 2466.4L353.5 2462.8L354.8 2455.8L356.1 2451.5L357.4 2456.6L358.7 2452.9L360.0 2450.9L361.3 2449.3L362.6 2452.2L363.9 2459.8L365.2 2454.9L366.5 2449.2L367.8 2456.8L369.1 2456.0L370.4 2459.1L371.7 2461.3L373.0 2455.0L374.2 2455.6L375.5 2454.1L376.8 2454.0L378.0 2449.1L379.2 2455.5L380.5 2460.0L381.8 2455.8L383.0 2452.8L384.2 2451.8L385.5 2449.1L386.8 2448.2L388.0 2449.5L389.2 2447.8L390.5 2448.9L391.8 2444.1L393.0 2451.1L394.2 2451.3L395.5 2451.0L396.8 2447.4L398.1 2444.6L399.4 2452.3L400.7 2460.5L402.0 2457.8L403.3 2454.9L404.6 2453.7L405.9 2452.4L407.2 2456.8L408.5 2450.6L409.9 2456.6L411.2 2452.0L412.5 2455.6L413.8 2452.1L415.1 2449.5L416.4 2442.9L417.7 2448.7L419.0 2444.1L420.3 2446.4L421.6 2451.0L423.0 2450.3L424.3 2446.1L425.6 2449.8L426.9 2453.2L428.2 2449.2L429.6 2446.9L430.9 2446.6L432.2 2451.7L433.5 2448.7L434.8 2451.4L436.1 2444.8L437.4 2448.5L438.7 2445.5L440.0 2443.4L441.2 2451.2L442.5 2451.1L443.8 2444.1L445.1 2445.6L446.4 2447.6L447.7 2442.9L449.0 2444.8L450.3 2444.8L451.7 2449.5L453.0 2440.8L454.3 2448.6L455.7 2453.1L457.0 2451.0L458.3 2453.0L459.6 2444.1L460.9 2448.3L462.2 2443.5L463.6 2447.8L464.9 2448.4L466.2 2446.1L467.5 2443.5L468.8 2440.3L470.1 2439.7L471.4 2445.5L472.7 2439.2L474.0 2443.4L475.3 2444.3L476.6 2440.9L478.0 2450.3L479.3 2443.8L480.6 2449.8L481.9 2434.1L483.2 2431.0L484.5 2441.2L485.8 2439.5L487.1 2443.4L488.4 2440.6L489.6 2441.6L490.9 2434.4L492.2 2438.8L493.4 2438.7L494.7 2442.8L496.0 2446.0L497.3 2448.4L498.7 2445.3L500.0 2445.3L501.3 2440.0L502.6 2439.2L504.0 2440.7L505.3 2440.0L507.3 2345.0L508.6 2395.0L510.0 2445.0L511.5 2446.4L513.0 2451.6L514.5 2449.8L516.0 2453.0L517.3 2458.5L518.6 2455.3L519.9 2460.3L521.2 2458.9L522.5 2461.8L523.8 2469.3L525.1 2465.4L526.4 2466.0L527.7 2464.4L529.0 2466.9L530.2 2460.0L531.5 2455.6L532.7 2450.2L534.0 2458.0L535.5 2241.0L537.6 2462.0L539.0 2465.4L540.5 2467.0L542.0 2470.0L543.4 2474.9L544.7 2474.6L546.0 2483.9L547.3 2470.3L548.6 2475.7L550.0 2474.4L551.3 2478.3L552.6 2469.4L553.9 2473.4L555.2 2480.0L556.5 2477.5L557.9 2484.4L559.2 2485.3L560.6 2474.5L561.9 2475.4L563.3 2474.5L564.6 2468.4L566.0 2474.0L567.3 2467.1L568.5 2477.0L569.8 2477.9L571.1 2477.0L572.3 2483.3L573.6 2475.9L574.9 2481.3L576.1 2481.0L577.4 2481.4L578.7 2479.8L579.9 2479.3L581.2 2477.3L582.5 2475.9L583.7 2474.3L585.0 2472.0L586.4 2479.4L587.8 2470.4L589.2 2473.0L590.7 2471.0L592.1 2465.4L593.5 2468.1L594.9 2463.6L596.4 2466.2L598.0 2473.0L599.5 2473.2L601.0 2478.0L602.4 2479.3L603.8 2483.6L605.2 2487.8L606.6 2488.5L607.9 2492.8L609.2 2493.2L610.5 2488.5L611.9 2484.0L613.2 2489.2L614.5 2489.4L615.8 2483.9L617.1 2490.8L618.5 2489.1L619.8 2483.5L621.1 2488.1L622.4 2487.0L623.7 2481.3L625.0 2481.4L626.3 2486.8L627.6 2479.6L628.9 2484.5L630.2 2479.6L631.5 2487.2L632.8 2482.7L634.1 2485.3L635.5 2478.5L636.8 2481.7L638.1 2487.9L639.4 2487.2L640.7 2477.0L642.0 2486.2L643.3 2488.2L644.6 2483.1L645.9 2489.4L647.2 2480.1L648.5 2483.0L649.8 2481.7L651.1 2487.3L652.4 2489.4L653.7 2489.7L655.0 2479.5L656.4 2473.9L657.7 2481.7L659.0 2475.8L660.3 2479.8L661.6 2475.7L662.9 2484.7L664.2 2485.8L665.5 2484.9L666.8 2482.3L668.2 2481.6L669.5 2479.9L670.8 2482.3L672.1 2482.3L673.4 2483.1L674.7 2480.6L676.0 2479.2L677.2 2488.2L678.5 2483.4L679.7 2486.9L681.0 2487.4L682.2 2477.9L683.5 2472.0L684.7 2483.1L686.0 2478.7L687.2 2479.5L688.5 2478.2L689.7 2479.4L691.0 2473.9L692.2 2477.2L693.5 2476.3L694.7 2477.9L696.0 2469.4L697.2 2479.4L698.5 2479.9L699.7 2471.1L701.0 2478.0L702.3 2472.2L703.7 2475.2L705.0 2477.9L706.3 2475.3L707.7 2480.0L709.0 2473.0L710.3 2474.8L711.6 2469.4L712.9 2469.6L714.1 2475.9L715.4 2471.8L716.7 2477.1L718.0 2479.4L719.3 2478.2L720.6 2479.9L721.9 2475.3L723.1 2475.0L724.4 2472.5L725.7 2472.0L727.0 2475.4L728.3 2467.6L729.6 2470.6L730.9 2468.9L732.2 2466.7L733.5 2472.8L734.8 2475.4L736.1 2472.4L737.4 2478.9L738.7 2478.4L740.0 2478.6L741.3 2471.3L742.6 2465.4L743.9 2472.6L745.2 2473.1L746.5 2474.9L747.8 2473.8L749.1 2476.9L750.4 2470.8L751.7 2473.2L753.0 2470.0L754.3 2466.6L755.5 2460.4L756.8 2464.7L758.0 2474.4L759.3 2462.9L760.5 2471.5L761.8 2466.1L763.1 2465.8L764.3 2467.5L765.6 2468.4L766.8 2463.4L768.1 2466.7L769.3 2468.7L770.6 2470.7L771.9 2464.2L773.1 2472.3L774.4 2475.1L775.6 2474.8L776.9 2462.9L778.1 2465.3L779.4 2465.0L780.7 2456.8L782.0 2464.2L783.3 2466.7L784.6 2459.8L786.0 2456.1L787.3 2462.6L788.6 2466.0L789.9 2460.6L791.2 2461.4L792.5 2453.9L793.8 2456.9L795.1 2461.8L796.4 2462.8L797.7 2469.2L799.0 2458.8L800.4 2452.7L801.7 2460.9L803.0 2458.7L804.3 2461.8L805.6 2461.0L806.9 2464.0L808.2 2464.0L809.5 2467.5L810.8 2467.8L812.1 2454.7L813.5 2458.2L814.8 2467.8L816.1 2459.7L817.4 2463.5L818.7 2459.8L820.0 2457.2L821.3 2465.0L822.6 2464.5L823.9 2458.7L825.2 2462.0L826.6 2453.1L827.9 2453.3L829.2 2460.2L830.5 2458.1L831.8 2457.0L833.1 2452.4L834.4 2457.5L835.7 2458.0L837.0 2462.2L838.3 2461.6L839.7 2456.0L841.0 2453.6L842.3 2454.3L843.6 2453.9L844.9 2461.0L846.2 2463.2L847.5 2462.6L848.8 2458.0L850.1 2454.0L851.5 2457.9L852.8 2453.3L854.1 2454.5L855.4 2446.4L856.7 2449.6L858.0 2453.0L859.3 2458.1L860.6 2449.5L861.9 2445.2L863.2 2449.7L864.5 2458.6L865.8 2459.7L867.1 2452.0L868.4 2449.4L869.7 2450.2L871.0 2446.7L872.3 2449.9L873.6 2449.1L874.9 2443.6L876.2 2446.0L877.5 2447.8L878.8 2445.5L880.1 2443.7L881.4 2451.8L882.7 2458.0L884.0 2449.0L885.3 2449.6L886.6 2446.8L887.9 2449.8L889.2 2447.2L890.5 2443.9L891.8 2452.2L893.1 2443.6L894.4 2442.5L895.7 2442.3L897.0 2441.1L898.3 2443.3L899.6 2447.2L900.9 2451.6L902.2 2449.1L903.5 2445.6L904.8 2438.9L906.1 2442.1L907.4 2438.9L908.7 2441.5L910.0 2442.7L911.3 2446.4L912.5 2444.2L913.8 2441.7L915.0 2438.6L916.3 2440.8L917.6 2441.8L918.8 2437.4L920.1 2438.0L921.4 2444.0L922.6 2434.4L923.9 2437.1L925.1 2434.5L926.4 2445.4L927.7 2443.9L928.9 2443.0L930.2 2442.2L931.5 2441.3L932.7 2441.0L934.0 2432.7L935.2 2438.4L936.5 2438.7L937.9 2440.8L939.2 2432.5L940.5 2439.9L941.9 2440.8L943.2 2431.3L944.6 2433.3L946.0 2434.2L947.3 2433.2L948.6 2436.7L950.0 2435.4L951.3 2429.9L952.6 2432.7L953.9 2435.2L955.2 2437.8L956.5 2435.3L957.9 2433.3L959.2 2436.7L960.5 2425.8L961.8 2435.5L963.1 2432.4L964.4 2427.4L965.7 2432.8L967.0 2429.1L968.3 2423.3L969.6 2422.5L970.9 2427.0L972.2 2426.4L973.6 2432.5L974.9 2426.7L976.2 2423.2L977.5 2423.5L978.8 2428.8L980.1 2435.9L981.3 2432.7L982.6 2430.0L983.9 2428.6L985.2 2428.6L986.5 2433.5L987.7 2438.1L989.0 2438.0L990.3 2444.6L991.7 2446.9L993.0 2444.7L994.3 2441.1L995.7 2440.3L997.0 2445.9L998.3 2436.0L999.7 2437.1L1001.0 2443.5L1002.3 2441.2L1003.7 2443.0L1005.0 2441.0L1006.3 2435.9L1007.6 2444.4L1008.9 2444.2L1010.2 2443.5L1011.5 2445.1L1012.8 2434.6L1014.1 2439.4L1015.4 2444.6L1016.7 2439.4L1018.0 2450.8L1019.3 2444.9L1020.7 2441.9L1022.0 2446.9L1023.3 2439.7L1024.6 2448.5L1025.9 2441.4L1027.2 2442.2L1028.5 2438.6L1029.9 2445.0L1031.2 2433.6L1032.5 2443.0L1033.8 2442.0L1035.1 2438.2L1036.4 2440.6L1037.7 2435.6L1039.0 2440.1L1040.3 2440.7L1041.6 2442.3L1042.9 2441.2L1044.2 2441.9L1045.6 2443.4L1046.9 2437.5L1048.2 2432.3L1049.5 2430.2L1050.8 2437.9L1052.1 2434.9L1053.4 2440.0L1054.7 2435.4L1056.0 2435.7L1057.3 2429.5L1058.7 2435.6L1060.0 2440.9L1061.3 2432.4L1062.6 2430.0L1063.9 2426.8L1065.2 2424.7L1066.4 2426.7L1067.7 2422.9L1069.0 2422.3L1070.3 2421.5L1071.7 2427.1L1073.0 2426.5L1074.3 2427.6L1075.7 2425.9L1077.0 2426.0L1078.3 2430.3L1079.7 2432.3L1081.0 2432.8L1082.2 2436.7L1083.5 2440.7L1084.8 2444.6L1086.0 2448.5L1087.3 2452.5L1088.7 2449.6L1090.1 2453.5L1091.4 2453.7L1092.7 2452.8L1093.9 2449.8L1095.2 2448.5L1096.5 2447.5L1097.7 2443.8L1099.0 2440.6L1100.3 2442.5L1101.7 2439.2L1103.0 2444.9L1104.3 2445.5L1105.7 2445.7L1107.0 2444.5L1108.4 2451.2L1109.7 2451.0L1111.0 2458.2L1112.3 2458.7L1113.6 2459.7L1114.9 2462.7L1116.2 2463.2L1117.5 2466.8L1118.8 2467.0L1120.1 2464.0L1121.4 2463.3L1122.8 2466.9L1124.1 2467.8L1125.4 2466.6L1126.7 2463.3L1128.0 2466.8L1129.5 2465.4L1131.0 2458.8L1132.5 2463.9L1134.0 2460.0L1135.6 2405.7L1137.2 2351.4L1138.8 2408.7L1140.3 2466.0L1141.7 2470.3L1143.0 2474.7L1144.3 2473.7L1145.5 2474.5L1146.8 2478.0L1148.0 2477.9L1149.3 2469.9L1150.6 2472.4L1151.8 2475.7L1153.1 2470.3L1154.4 2465.6L1155.6 2471.5L1156.9 2473.7L1158.1 2476.3L1159.4 2474.7L1160.8 2474.7L1162.3 2473.9L1163.7 2473.6L1165.1 2477.8L1166.6 2474.4L1168.0 2470.0L1169.5 2471.7L1171.0 2466.8L1172.3 2464.2L1173.6 2464.0L1174.9 2459.0L1176.3 2436.6L1177.7 2414.2L1179.2 2441.8L1180.6 2469.4L1181.9 2482.5L1183.2 2495.6L1184.6 2496.6L1186.0 2498.0L1187.2 2501.0L1188.5 2489.4L1189.8 2496.6L1191.0 2496.8L1192.2 2495.2L1193.5 2502.3L1194.8 2500.1L1196.0 2497.0L1197.3 2496.5L1198.7 2493.4L1200.0 2495.0L1201.3 2496.2L1202.6 2490.4L1204.2 2485.0L1205.8 2479.6L1207.4 2485.8L1209.0 2492.0L1210.4 2496.4L1211.8 2500.8L1213.1 2506.3L1214.4 2503.5L1215.7 2507.8L1217.0 2502.1L1218.3 2510.0L1219.7 2509.1L1221.0 2505.7L1222.3 2505.9L1223.6 2499.8L1224.9 2507.4L1226.2 2508.5L1227.5 2503.2L1228.8 2510.2L1230.1 2506.6L1231.4 2504.9L1232.8 2508.9L1234.1 2509.3L1235.4 2503.7L1236.7 2506.9L1238.0 2510.7L1239.3 2508.1L1240.6 2508.7L1241.9 2502.4L1243.2 2505.4L1244.5 2502.8L1245.8 2503.5L1247.2 2506.0L1248.5 2506.0L1249.8 2505.0L1251.1 2498.2L1252.4 2504.8L1253.7 2504.8L1255.0 2503.9L1256.3 2503.0L1257.6 2505.2L1258.9 2513.4L1260.2 2501.7L1261.5 2497.5L1262.8 2506.7L1264.2 2502.3L1265.5 2510.3L1266.8 2502.5L1268.1 2502.8L1269.4 2508.6L1270.7 2510.4L1272.0 2508.9L1273.3 2508.6L1274.6 2506.0L1275.9 2506.6L1277.2 2505.1L1278.5 2506.2L1279.8 2513.1L1281.1 2512.8L1282.4 2510.2L1283.7 2511.2L1285.0 2510.0L1286.3 2513.6L1287.6 2515.2L1288.9 2509.7L1290.1 2508.2L1291.4 2509.3L1292.7 2516.5L1294.0 2507.0L1295.7 2507.3L1297.4 2500.8L1299.5 2461.3L1301.0 2482.4L1302.4 2503.5L1303.7 2510.3L1305.0 2510.0L1306.2 2505.0L1307.5 2513.5L1308.8 2506.5L1310.0 2512.6L1311.3 2506.2L1312.6 2507.7L1313.9 2509.9L1315.2 2511.6L1316.5 2512.5L1317.8 2511.9L1319.1 2508.6L1320.5 2518.9L1321.8 2513.9L1323.1 2513.1L1324.4 2517.9L1325.7 2515.0L1327.0 2512.2L1328.3 2510.2L1329.6 2507.4L1330.9 2515.8L1332.1 2504.4L1333.4 2501.9L1334.7 2505.9L1336.0 2497.3L1337.2 2500.4L1338.5 2509.1L1339.8 2504.3L1341.1 2505.6L1342.3 2508.0L1343.6 2500.5L1344.9 2504.6L1346.2 2501.6L1347.5 2498.6L1348.7 2501.2L1350.0 2503.5L1351.5 2502.0L1353.1 2500.2L1354.6 2501.5L1355.9 2498.1L1357.2 2504.6L1358.4 2507.1L1359.7 2505.1L1361.0 2501.7L1362.3 2496.7L1363.6 2496.5L1364.9 2495.1L1366.2 2500.4L1367.4 2504.6L1368.7 2505.7L1370.0 2501.9L1371.3 2499.3L1372.6 2501.0L1373.8 2501.2L1375.1 2503.2L1376.4 2507.4L1377.7 2499.2L1379.0 2509.0L1380.3 2493.4L1381.6 2491.1L1382.8 2491.3L1384.1 2493.5L1385.4 2500.0L1386.7 2496.7L1387.9 2506.9L1389.2 2497.1L1390.4 2501.9L1391.7 2496.4L1393.0 2496.7L1394.2 2491.3L1395.5 2503.5L1396.7 2496.2L1398.0 2493.6L1399.4 2490.7L1400.8 2501.2L1402.2 2494.4L1403.6 2493.1L1405.0 2489.8L1406.4 2485.5L1407.8 2481.3L1409.2 2487.5L1411.0 2489.1L1412.7 2495.0L1414.3 2500.5L1415.9 2506.0L1417.5 2511.5L1419.1 2519.7L1420.7 2528.0L1422.3 2536.2L1423.7 2541.3L1425.0 2546.5L1426.8 2545.1L1428.5 2538.0L1429.9 2529.9L1431.3 2521.9L1432.6 2513.8L1434.0 2505.8L1435.4 2497.7L1436.9 2294.5L1438.5 2091.2L1440.0 1888.0L1441.8 2212.0L1443.6 2536.0L1443.9 2588.0L1446.0 2599.0L1447.5 2601.5L1449.0 2601.4L1450.5 2603.9L1452.0 2603.6L1453.4 2602.8L1454.8 2605.4L1456.2 2604.2L1457.6 2602.9L1459.0 2604.0L1460.3 2604.7L1461.6 2604.9L1462.9 2603.8L1464.2 2604.3L1465.5 2605.5L1466.8 2606.3L1468.1 2603.6L1469.4 2601.5L1470.7 2606.0L1472.1 2604.4L1473.4 2603.8L1474.7 2604.7L1476.0 2603.9L1477.3 2605.6L1478.6 2603.1L1479.9 2603.8L1481.2 2602.7L1482.5 2606.0L1483.8 2604.5L1485.1 2604.6L1486.4 2605.9L1487.6 2606.6L1488.9 2603.5L1490.2 2604.0L1491.5 2605.3L1492.8 2604.8L1494.1 2604.4L1495.3 2605.5L1496.6 2605.9L1497.9 2604.1L1499.2 2604.2L1500.5 2605.3L1501.8 2605.0L1503.0 2604.8L1504.3 2603.1L1505.6 2606.4L1506.9 2604.7L1508.2 2604.9L1509.5 2604.6L1510.8 2604.6L1512.0 2604.7L1513.3 2603.5L1514.6 2604.5L1515.9 2604.7L1517.1 2606.0L1518.4 2605.2L1519.7 2605.4L1520.9 2605.1L1522.2 2604.4L1523.5 2606.5L1524.7 2603.7L1526.0 2604.4L1527.3 2605.3L1528.5 2604.6L1529.8 2602.6L1531.1 2602.0L1532.3 2605.3L1533.6 2602.7L1534.9 2603.3L1536.1 2604.1L1537.4 2603.7L1538.7 2601.0L1539.9 2600.4L1541.2 2602.3L1542.5 2601.9L1543.7 2602.4L1545.0 2603.0L1546.3 2602.9L1547.6 2603.2L1548.9 2601.2L1550.2 2600.2L1551.5 2603.5L1552.8 2602.1L1554.0 2601.1L1555.3 2599.9L1556.6 2602.7L1557.9 2601.0L1559.2 2600.9L1560.5 2603.1L1561.8 2603.2L1563.1 2603.5L1564.4 2601.1L1565.7 2599.7L1567.0 2600.1L1568.2 2601.5L1569.5 2601.4L1570.8 2603.4L1572.1 2603.2L1573.4 2601.2L1574.7 2602.9L1576.0 2602.4L1577.3 2602.3L1578.6 2601.7L1579.9 2603.8L1581.2 2600.4L1582.5 2603.3L1583.8 2604.1L1585.0 2600.0L1586.3 2601.5L1587.6 2602.0L1588.9 2600.7L1590.2 2601.2L1591.5 2601.0L1592.8 2602.1L1594.1 2601.6L1595.4 2599.5L1596.7 2603.3L1598.0 2603.9L1599.2 2601.6L1600.5 2603.4L1601.8 2605.3L1603.1 2601.0L1604.4 2601.5L1605.7 2601.5L1607.0 2602.4L1608.4 2602.9L1609.8 2602.0L1611.2 2600.1L1612.6 2603.3L1614.0 2602.0L1615.6 2597.0L1616.3 2585.8L1618.3 2585.8L1619.8 2599.0L1622.0 2604.0L1623.3 2603.9L1624.6 2604.9L1625.9 2606.7L1627.1 2603.7L1628.4 2603.3L1629.7 2604.9L1631.0 2604.0L1632.3 2604.5L1633.6 2604.0L1634.9 2606.6L1636.1 2605.5L1637.4 2604.6L1638.7 2604.1L1640.0 2603.7L1641.2 2604.3L1642.5 2601.7L1643.8 2602.9L1645.0 2604.5L1646.2 2602.4L1647.5 2603.5L1648.8 2603.6L1650.0 2603.1L1651.2 2606.7L1652.5 2605.6L1653.8 2604.8L1655.0 2603.1L1656.2 2603.9L1657.5 2603.5L1658.8 2603.8L1660.0 2604.0L1661.3 2604.7L1662.7 2607.6L1664.0 2607.9L1665.3 2608.5L1666.7 2608.7L1668.0 2606.8L1669.3 2608.2L1670.7 2604.4L1672.0 2603.0L1673.3 2599.3L1674.7 2597.4L1676.0 2590.1L1677.4 2582.9L1678.8 2575.6L1680.1 2568.3L1681.9 2586.0L1683.8 2603.7L1685.2 2606.2L1686.5 2609.0L1688.2 2610.6L1690.0 2611.8L1691.2 2611.9L1692.5 2611.2L1693.8 2612.3L1695.0 2613.6L1696.2 2612.4L1697.5 2611.8L1698.8 2612.9L1700.0 2611.8L1701.2 2611.5L1702.5 2612.0L1703.8 2609.8L1705.0 2613.1L1706.2 2612.0L1707.5 2612.3L1708.8 2612.2L1710.0 2612.3L1711.2 2610.7L1712.5 2613.2L1713.8 2612.7L1715.0 2612.3L1716.2 2613.8L1717.5 2611.4L1718.8 2612.4L1720.0 2611.9L1721.2 2610.4L1722.5 2613.3L1723.8 2610.7L1725.0 2611.7L1726.2 2611.7L1727.5 2612.0L1728.8 2611.0L1730.0 2611.8L1731.3 2612.9L1732.5 2612.3L1733.8 2610.7L1735.0 2610.4L1736.3 2611.7L1737.5 2610.7L1738.8 2611.9L1740.1 2612.1L1741.3 2611.3L1742.6 2609.9L1743.8 2610.1L1745.1 2611.7L1746.4 2611.3L1747.6 2613.4L1748.9 2611.8L1750.1 2612.2L1751.4 2612.5L1752.6 2612.1L1753.9 2612.2L1755.2 2612.8L1756.4 2611.9L1757.7 2612.2L1758.9 2611.6L1760.2 2613.6L1761.5 2612.4L1762.7 2612.7L1764.0 2609.8L1765.2 2610.7L1766.5 2610.5L1767.7 2611.5L1769.0 2611.8L1770.5 2610.4L1772.0 2608.7L1773.5 2609.0L1775.8 2600.0L1776.7 2584.0L1777.8 2603.0L1780.0 2612.0L1781.3 2612.9L1782.7 2615.4L1784.1 2617.3L1785.4 2617.8"/>
<path stroke="#000" stroke-width="13" d="M589.6 259H773.8"/>
<path stroke="#f00" stroke-width="13" d="M605.1 1128.6H789.5"/>
<path stroke="#00f" stroke-width="13" d="M583.4 2003.3H768.5"/>
</g>
<path d="M1594.5 683.0L1587.3 789.6" stroke="#000" stroke-width="3.5" fill="none"/><path d="M1584.5 831.0L1576.1 788.8L1598.5 790.4Z" fill="#000"/>
<path d="M1616.2 1515.4L1598.5 1597.2" stroke="#000" stroke-width="3.5" fill="none"/><path d="M1589.8 1637.8L1587.6 1594.9L1609.5 1599.6Z" fill="#000"/>
<g font-family="'Liberation Sans', Arial, Helvetica, sans-serif" fill="#000">
<text transform="translate(242.12 166.00) scale(1.0154 1)" font-size="96" font-weight="bold">a)</text>
<text transform="translate(232.54 1013.80) scale(1.0354 1)" font-size="96" font-weight="bold">b)</text>
<text transform="translate(232.20 1876.00) scale(1.0267 1)" font-size="96" font-weight="bold">c)</text>
<text transform="translate(337.09 233.80) scale(1.0067 1)" font-size="69.0" font-weight="bold">Zn 2p</text>
<text transform="translate(325.60 1067.20) scale(1.0022 1)" font-size="69.0" font-weight="bold">Zn 2p</text>
<text transform="translate(386.18 2193.90) scale(1.0100 1)" font-size="69.0" font-weight="bold">Zn 2p</text>
<text transform="translate(793.60 285.70) scale(1.0075 1)" font-size="83.0" font-weight="bold">ZnO/GO-U</text>
<text transform="translate(809.40 1156.30) scale(1.0073 1)" font-size="83.0" font-weight="bold">ZnO/GO-T</text>
<text transform="translate(788.20 2031.40) scale(1.0056 1)" font-size="83.0" font-weight="bold">ZnO/GO-E</text>
<text transform="translate(1366.07 318.30) scale(0.9897 1)" font-size="69.0" font-weight="bold">C 1s</text>
<text transform="translate(1470.08 1116.50) scale(0.9854 1)" font-size="69.0" font-weight="bold">C 1s</text>
<text transform="translate(1470.60 1891.80) scale(0.9769 1)" font-size="69.0" font-weight="bold">C 1s</text>
<text transform="translate(1060.43 547.30) scale(1.0018 1)" font-size="69.0" font-weight="bold">O 1s</text>
<text transform="translate(1067.07 1370.50) scale(0.9893 1)" font-size="69.0" font-weight="bold">O 1s</text>
<text transform="translate(1049.87 2292.20) scale(0.9907 1)" font-size="69.0" font-weight="bold">O 1s</text>
<text transform="translate(1232.38 616.00) scale(0.9854 1)" font-size="69.0" font-weight="bold">N 1s</text>
<text transform="translate(1232.76 1472.00) scale(0.9898 1)" font-size="69.0" font-weight="bold">N 1s</text>
<text transform="translate(1220.46 2400.00) scale(0.9898 1)" font-size="69.0" font-weight="bold">N 1s</text>
<text transform="translate(1511.10 652.30) scale(1.0028 1)" font-size="69.0" font-weight="bold">S 2p</text>
<text transform="translate(1542.51 1499.50) scale(0.9985 1)" font-size="69.0" font-weight="bold">S 2p</text>
<text transform="translate(1460.21 845.50) scale(0.9211 1)" font-size="58.7" font-weight="bold">S 2s</text>
<text transform="translate(1460.80 1656.40) scale(0.9263 1)" font-size="58.7" font-weight="bold">S 2s</text>
<text transform="translate(214.11 2730.00) scale(0.9811 1)" font-size="96.4" font-weight="normal">1200</text>
<text transform="translate(728.96 2730.00) scale(0.9854 1)" font-size="96.4" font-weight="normal">800</text>
<text transform="translate(1218.01 2730.00) scale(1.0106 1)" font-size="96.4" font-weight="normal">400</text>
<text transform="translate(1764.02 2730.00) scale(0.9898 1)" font-size="96.4" font-weight="normal">0</text>
<text transform="translate(449.96 2855.00) scale(0.9936 1)" font-size="122.5" font-weight="normal">Binding Energy (eV)</text>
<text transform="translate(108.6 1624.14) rotate(-90) scale(0.9652 1)" font-size="122.5">Intensity (a.u.)</text>
</g>
</svg>
</body></html>
